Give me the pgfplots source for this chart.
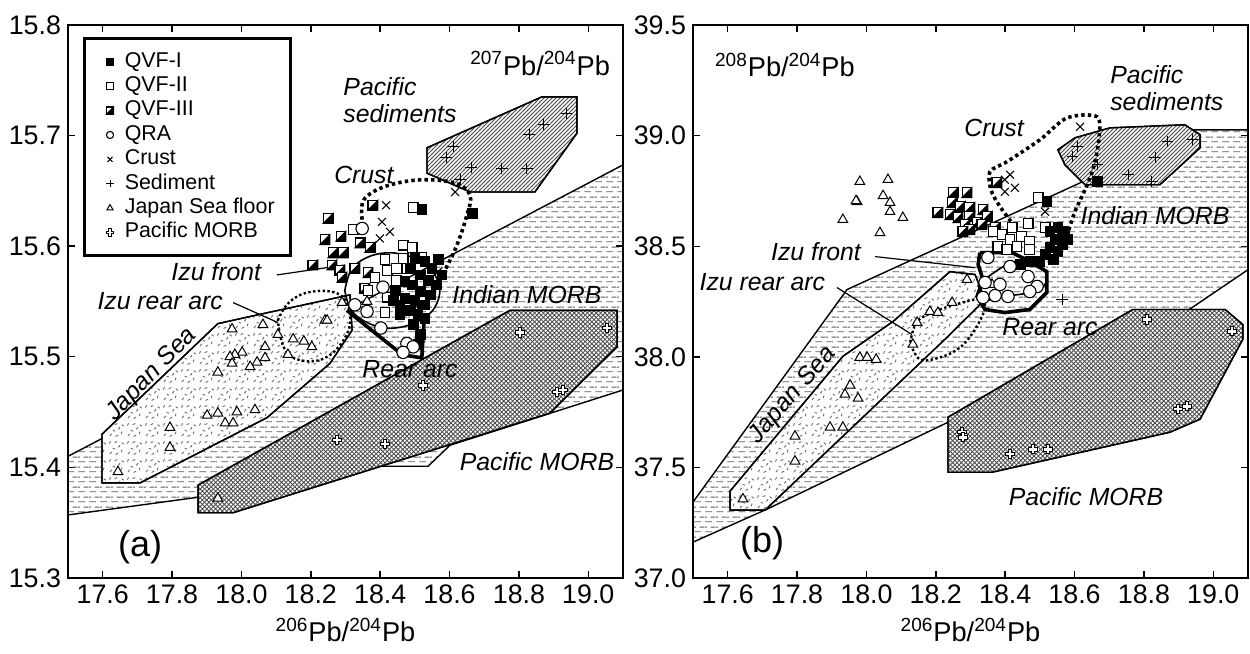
\documentclass[border=0pt]{standalone}
\usepackage{fontspec}
\setmainfont{Liberation Sans}
\usepackage{pgfplots}
\pgfplotsset{compat=1.18}
\usetikzlibrary{patterns}

\pgfdeclarepatternformonly{hdash}{\pgfqpoint{0pt}{0pt}}{\pgfqpoint{5.6pt}{5pt}}{\pgfqpoint{5.6pt}{5pt}}{%
 \pgfsetlinewidth{0.5pt}%
 \pgfpathmoveto{\pgfqpoint{0.2pt}{1.25pt}}\pgfpathlineto{\pgfqpoint{3.8pt}{1.25pt}}%
 \pgfpathmoveto{\pgfqpoint{3pt}{3.75pt}}\pgfpathlineto{\pgfqpoint{5.6pt}{3.75pt}}%
 \pgfpathmoveto{\pgfqpoint{0pt}{3.75pt}}\pgfpathlineto{\pgfqpoint{1pt}{3.75pt}}%
 \pgfusepath{stroke}}
\pgfdeclarepatternformonly{xdiag}{\pgfqpoint{-0.2pt}{-0.2pt}}{\pgfqpoint{2.4pt}{2.4pt}}{\pgfqpoint{2.2pt}{2.2pt}}{%
 \pgfsetlinewidth{0.4pt}%
 \pgfpathmoveto{\pgfqpoint{-0.2pt}{-0.2pt}}\pgfpathlineto{\pgfqpoint{2.4pt}{2.4pt}}%
 \pgfpathmoveto{\pgfqpoint{-0.2pt}{2.4pt}}\pgfpathlineto{\pgfqpoint{2.4pt}{-0.2pt}}%
 \pgfusepath{stroke}}
\pgfdeclarepatternformonly{nelines}{\pgfqpoint{-0.2pt}{-0.2pt}}{\pgfqpoint{2.2pt}{2.2pt}}{\pgfqpoint{2pt}{2pt}}{%
 \pgfsetlinewidth{0.45pt}%
 \pgfpathmoveto{\pgfqpoint{-0.2pt}{-0.2pt}}\pgfpathlineto{\pgfqpoint{2.2pt}{2.2pt}}\pgfusepath{stroke}}
\pgfdeclarepatternformonly{rdash}{\pgfqpoint{0pt}{0pt}}{\pgfqpoint{9pt}{9pt}}{\pgfqpoint{9pt}{9pt}}{%
 \pgfsetlinewidth{0.45pt}%
 \pgfpathmoveto{\pgfqpoint{1pt}{1pt}}\pgfpathlineto{\pgfqpoint{2pt}{2.2pt}}%
 \pgfpathmoveto{\pgfqpoint{4pt}{0.8pt}}\pgfpathlineto{\pgfqpoint{5.3pt}{1.5pt}}%
 \pgfpathmoveto{\pgfqpoint{7pt}{2pt}}\pgfpathlineto{\pgfqpoint{7.4pt}{3.4pt}}%
 \pgfpathmoveto{\pgfqpoint{2.5pt}{4pt}}\pgfpathlineto{\pgfqpoint{3.8pt}{3.6pt}}%
 \pgfpathmoveto{\pgfqpoint{5.5pt}{4.5pt}}\pgfpathlineto{\pgfqpoint{6.3pt}{5.7pt}}%
 \pgfpathmoveto{\pgfqpoint{0.8pt}{6.5pt}}\pgfpathlineto{\pgfqpoint{1.3pt}{7.8pt}}%
 \pgfpathmoveto{\pgfqpoint{3.5pt}{7pt}}\pgfpathlineto{\pgfqpoint{4.9pt}{7.6pt}}%
 \pgfpathmoveto{\pgfqpoint{7.2pt}{7pt}}\pgfpathlineto{\pgfqpoint{8.3pt}{6.2pt}}%
 \pgfusepath{stroke}}

\pgfdeclareplotmark{halfsq}{%
 \begin{pgfscope}\pgfsetfillcolor{white}%
 \pgfpathrectangle{\pgfqpoint{-\pgfplotmarksize}{-\pgfplotmarksize}}{\pgfqpoint{2\pgfplotmarksize}{2\pgfplotmarksize}}%
 \pgfusepathqfillstroke\end{pgfscope}%
 \pgfpathmoveto{\pgfqpoint{\pgfplotmarksize}{\pgfplotmarksize}}%
 \pgfpathlineto{\pgfqpoint{\pgfplotmarksize}{-\pgfplotmarksize}}%
 \pgfpathlineto{\pgfqpoint{-\pgfplotmarksize}{-\pgfplotmarksize}}%
 \pgfpathclose\pgfusepathqfillstroke}
\pgfdeclareplotmark{hcross}{%
 \pgfpathmoveto{\pgfqpoint{0.38\pgfplotmarksize}{\pgfplotmarksize}}%
 \pgfpathlineto{\pgfqpoint{0.38\pgfplotmarksize}{0.38\pgfplotmarksize}}%
 \pgfpathlineto{\pgfqpoint{\pgfplotmarksize}{0.38\pgfplotmarksize}}%
 \pgfpathlineto{\pgfqpoint{\pgfplotmarksize}{-0.38\pgfplotmarksize}}%
 \pgfpathlineto{\pgfqpoint{0.38\pgfplotmarksize}{-0.38\pgfplotmarksize}}%
 \pgfpathlineto{\pgfqpoint{0.38\pgfplotmarksize}{-\pgfplotmarksize}}%
 \pgfpathlineto{\pgfqpoint{-0.38\pgfplotmarksize}{-\pgfplotmarksize}}%
 \pgfpathlineto{\pgfqpoint{-0.38\pgfplotmarksize}{-0.38\pgfplotmarksize}}%
 \pgfpathlineto{\pgfqpoint{-\pgfplotmarksize}{-0.38\pgfplotmarksize}}%
 \pgfpathlineto{\pgfqpoint{-\pgfplotmarksize}{0.38\pgfplotmarksize}}%
 \pgfpathlineto{\pgfqpoint{-0.38\pgfplotmarksize}{0.38\pgfplotmarksize}}%
 \pgfpathlineto{\pgfqpoint{-0.38\pgfplotmarksize}{\pgfplotmarksize}}%
 \pgfpathclose\pgfusepathqfillstroke}

\tikzset{flab/.style={font=\itshape\fontsize{12.4}{13.5}\selectfont}}
\pgfplotsset{
  geoax/.style={
    scale only axis, width=277.5pt, height=276.5pt,
    xmin=17.5, xmax=19.1,
    xtick={17.6,17.8,18.0,18.2,18.4,18.6,18.8,19.0},
    /pgf/number format/assume math mode=true,
    xticklabel style={/pgf/number format/fixed,/pgf/number format/fixed zerofill,/pgf/number format/precision=1},
    yticklabel style={/pgf/number format/fixed,/pgf/number format/fixed zerofill,/pgf/number format/precision=1},
    tick label style={font=\fontsize{13.4}{15}\selectfont},
    major tick length=3.5pt,
    tick style={line width=0.7pt,black},
    axis line style={line width=0.7pt},
    xlabel={\textsuperscript{206}Pb/\textsuperscript{204}Pb},
    xlabel style={font=\fontsize{13.6}{15}\selectfont},
  },
  fieldline/.style={draw=black, line width=0.7pt},
  qvfI/.style={only marks, mark=square*, mark size=2.45pt, mark options={fill=black,draw=black,line width=0.4pt}},
  qvfII/.style={only marks, mark=square*, mark size=2.45pt, mark options={fill=white,draw=black,line width=0.55pt}},
  qvfIII/.style={only marks, mark=halfsq, mark size=2.45pt, mark options={fill=black,draw=black,line width=0.55pt}},
  qra/.style={only marks, mark=*, mark size=3.1pt, mark options={fill=white,draw=black,line width=0.55pt}},
  crust/.style={only marks, mark=x, mark size=2.8pt, mark options={draw=black,line width=0.55pt}},
  sedi/.style={only marks, mark=+, mark size=2.8pt, mark options={draw=black,line width=0.45pt}},
  jsf/.style={only marks, mark=triangle*, mark size=2.8pt, mark options={fill=white,draw=black,line width=0.5pt}},
  pmorb/.style={only marks, mark=hcross, mark size=2.3pt, mark options={fill=white,draw=black,line width=0.5pt}},
}

\begin{document}
\begin{tikzpicture}

% ================= (a) =================
\begin{axis}[geoax, at={(0pt,0pt)}, anchor=south west,
  ymin=15.3, ymax=15.8, ytick={15.3,15.4,15.5,15.6,15.7,15.8},
  legend style={at={(0.027,0.978)}, anchor=north west, draw=black, line width=1.4pt,
    font=\fontsize{10.7}{12}\selectfont, cells={anchor=west},
    nodes={inner sep=1pt, text height=7.8pt, text depth=2.4pt},
    inner xsep=7pt, inner ysep=5.5pt},
  legend image code/.code={\path (0cm,-0.1cm) (0.38cm,0.1cm); \draw[#1, mark size=1.8pt] plot coordinates {(0.18cm,0cm)};},
]
\addlegendimage{qvfI}\addlegendentry{QVF-I}
\addlegendimage{qvfII}\addlegendentry{QVF-II}
\addlegendimage{qvfIII}\addlegendentry{QVF-III}
\addlegendimage{qra}\addlegendentry{QRA}
\addlegendimage{crust}\addlegendentry{Crust}
\addlegendimage{sedi}\addlegendentry{Sediment}
\addlegendimage{jsf}\addlegendentry{Japan Sea floor}
\addlegendimage{pmorb}\addlegendentry{Pacific MORB}

% Indian MORB
\addplot[fieldline, pattern=hdash, pattern color=black!65, forget plot] coordinates {
(17.5,15.410) (19.2,15.690) (19.2,15.480) (18.601,15.420) (18.538,15.401) (18.342,15.401) (17.875,15.373) (17.5,15.357)} -- cycle;
% Pacific MORB
\addplot[fieldline, fill=white, postaction={pattern=xdiag, pattern color=black!70}, forget plot] coordinates {
(17.875,15.384) (17.875,15.359) (17.976,15.359) (18.889,15.449) (19.083,15.509) (19.083,15.542) (18.774,15.542)} -- cycle;
% Japan Sea
\addplot[fieldline, fill=white, postaction={pattern=rdash, pattern color=black!60}, forget plot] coordinates {
(17.598,15.430) (17.598,15.386) (17.708,15.386) (18.074,15.445) (18.255,15.494) (18.319,15.524) (18.313,15.556) (18.062,15.539) (17.932,15.530)} -- cycle;
% Pacific sediments
\addplot[fieldline, fill=white, postaction={pattern=nelines, pattern color=black!70}, forget plot] coordinates {
(18.535,15.689) (18.535,15.666) (18.659,15.649) (18.846,15.649) (18.967,15.702) (18.967,15.735) (18.866,15.735)} -- cycle;
% Izu rear arc (dotted)
\addplot[smooth, tension=0.7, line width=1.2pt, dash pattern=on 1.2pt off 1.2pt, forget plot] coordinates {
(18.105,15.533) (18.140,15.550) (18.206,15.559) (18.284,15.556) (18.313,15.538) (18.298,15.517) (18.241,15.499) (18.169,15.497) (18.123,15.508) (18.105,15.533)};
% Crust (dotted thick)
\addplot[smooth, tension=0.6, line width=1.8pt, dash pattern=on 1.7pt off 1.6pt, forget plot] coordinates {
(18.348,15.624) (18.353,15.642) (18.414,15.654) (18.515,15.660) (18.616,15.657) (18.659,15.646) (18.650,15.628) (18.616,15.597) (18.567,15.567)};
% pointers
\addplot[line width=0.6pt, forget plot] coordinates {(18.102,15.574) (18.298,15.583)};
\addplot[line width=0.6pt, forget plot] coordinates {(17.976,15.549) (18.105,15.531)};

% data
\addplot[jsf, forget plot] coordinates {
(17.973,15.525) (18.062,15.529) (18.241,15.533) (18.105,15.520) (18.149,15.516) (18.180,15.514) (18.203,15.509) (18.134,15.502) (18.068,15.509) (18.068,15.499) (18.045,15.495) (18.025,15.491) (18.002,15.504) (17.981,15.502) (17.967,15.500) (17.973,15.494) (17.932,15.486) (17.901,15.447) (17.932,15.449) (17.987,15.450) (18.039,15.452) (17.953,15.440) (17.976,15.440) (17.794,15.436) (17.794,15.418) (17.644,15.396) (17.932,15.372) (18.290,15.549) (18.247,15.533) (18.362,15.550)};
\addplot[pmorb, forget plot] coordinates {
(18.803,15.522) (19.054,15.526) (18.523,15.474) (18.910,15.468) (18.927,15.470) (18.275,15.425) (18.414,15.421)};
\addplot[sedi, forget plot] coordinates {
(18.610,15.690) (18.590,15.680) (18.662,15.671) (18.751,15.670) (18.823,15.670) (18.829,15.701) (18.872,15.710) (18.938,15.720) (18.630,15.660)};
\addplot[crust, forget plot] coordinates {
(18.417,15.637) (18.405,15.622) (18.428,15.613) (18.399,15.607) (18.616,15.649) (18.567,15.577)};
\addplot[qvfIII, forget plot] coordinates {
(18.250,15.625) (18.241,15.606) (18.287,15.609) (18.342,15.603) (18.371,15.599) (18.264,15.594) (18.293,15.594) (18.206,15.583) (18.261,15.583) (18.284,15.578) (18.327,15.580) (18.365,15.576) (18.290,15.572) (18.356,15.562) (18.379,15.637)};
\addplot[qvfII, forget plot] coordinates {
(18.495,15.635) (18.414,15.588) (18.466,15.589) (18.520,15.590) (18.420,15.578) (18.448,15.580) (18.477,15.580) (18.385,15.572) (18.448,15.569) (18.365,15.560) (18.420,15.554) (18.466,15.601) (18.492,15.599) (18.414,15.540) (18.322,15.615)};
\addplot[qvfI, forget plot] coordinates {
(18.520,15.633) (18.665,15.630) (18.500,15.589) (18.529,15.586) (18.549,15.580) (18.515,15.574) (18.538,15.569) (18.561,15.565) (18.492,15.565) (18.515,15.559) (18.544,15.556) (18.471,15.553) (18.500,15.551) (18.529,15.547) (18.486,15.542) (18.509,15.538) (18.457,15.547) (18.443,15.560) (18.471,15.568) (18.486,15.580) (18.567,15.588) (18.578,15.574) (18.457,15.538) (18.495,15.529) (18.515,15.520) (18.509,15.511) (18.529,15.535) (18.437,15.551)};
\addplot[qra, forget plot] coordinates {
(18.348,15.616) (18.408,15.563) (18.362,15.541) (18.402,15.526) (18.477,15.512) (18.495,15.509) (18.466,15.504) (18.327,15.547)};

% Izu front & Rear arc outlines
\addplot[smooth, tension=0.6, line width=0.8pt, forget plot] coordinates {
(18.298,15.560) (18.319,15.580) (18.371,15.591) (18.434,15.594) (18.500,15.589) (18.549,15.578) (18.572,15.560) (18.549,15.541) (18.486,15.529) (18.414,15.526) (18.350,15.533) (18.313,15.544) (18.298,15.560)};
\addplot[line width=1.8pt, forget plot] coordinates {
(18.304,15.542) (18.463,15.502) (18.520,15.499) (18.526,15.531) (18.500,15.555)};

% labels
\node[flab, anchor=east] at (axis cs:18.077,15.577) {Izu front};
\node[flab, anchor=east] at (axis cs:17.967,15.550) {Izu rear arc};
\node[flab, rotate=46, inner sep=0pt] at (axis cs:17.742,15.484) {Japan Sea};
\node[flab] at (axis cs:18.823,15.556) {Indian MORB};
\node[flab] at (axis cs:18.486,15.489) {Rear arc};
\node[flab] at (axis cs:18.852,15.405) {Pacific MORB};
\node[flab] at (axis cs:18.353,15.664) {Crust};
\node[flab, anchor=west, align=left, inner xsep=0pt] at (axis cs:18.293,15.732) {Pacific\\sediments};
\node[font=\fontsize{13.6}{15}\selectfont] at (axis cs:18.861,15.765) {\textsuperscript{207}Pb/\textsuperscript{204}Pb};
\node[font=\fontsize{18}{20}\selectfont] at (axis cs:17.708,15.328) {(a)};
\end{axis}

% ================= (b) =================
\begin{axis}[geoax, at={(312.5pt,0pt)}, anchor=south west,
  ymin=37.0, ymax=39.5, ytick={37.0,37.5,38.0,38.5,39.0,39.5}]
% Indian MORB
\addplot[fieldline, pattern=hdash, pattern color=black!65] coordinates {
(17.5,37.343) (17.944,38.304) (18.624,38.792) (18.861,39.026) (19.2,39.026) (19.2,38.500) (18.846,38.124) (18.673,37.898) (18.235,37.704) (17.713,37.311) (17.5,37.162)} -- cycle;
% Pacific MORB
\addplot[fieldline, fill=white, postaction={pattern=xdiag, pattern color=black!70}] coordinates {
(18.235,37.727) (18.235,37.478) (18.362,37.478) (18.875,37.659) (18.962,37.718) (19.085,38.079) (19.085,38.146) (19.034,38.214) (18.768,38.214)} -- cycle;
% Japan Sea
\addplot[fieldline, fill=white, postaction={pattern=rdash, pattern color=black!60}] coordinates {
(17.607,37.393) (17.607,37.307) (17.708,37.307) (18.235,38.092) (18.342,38.259) (18.313,38.372) (18.241,38.385) (18.077,38.160) (17.932,38.002)} -- cycle;
% Pacific sediments
\addplot[fieldline, fill=white, postaction={pattern=nelines, pattern color=black!70}] coordinates {
(18.552,38.936) (18.572,38.868) (18.630,38.778) (18.846,38.778) (18.962,38.945) (18.962,39.004) (18.918,39.049) (18.702,39.035) (18.601,38.990)} -- cycle;
% Izu rear arc dotted
\addplot[smooth, tension=0.6, line width=1.2pt, dash pattern=on 1.2pt off 1.2pt] coordinates {
(18.126,38.065) (18.146,38.160) (18.198,38.205) (18.255,38.236) (18.322,38.259) (18.342,38.223) (18.313,38.124) (18.270,38.042) (18.212,37.997) (18.154,37.988) (18.126,38.065)};
% Crust dotted
\addplot[smooth, tension=0.5, line width=1.8pt, dash pattern=on 1.7pt off 1.6pt] coordinates {
(18.428,38.588) (18.385,38.679) (18.359,38.755) (18.356,38.837) (18.405,38.882) (18.500,38.981) (18.578,39.080) (18.665,39.085) (18.670,38.981) (18.653,38.846) (18.630,38.755) (18.601,38.656) (18.581,38.561)};
% pointers
\addplot[line width=0.6pt] coordinates {(18.025,38.453) (18.313,38.403)};
\addplot[line width=0.6pt] coordinates {(17.915,38.313) (18.131,38.101)};

% data
\addplot[jsf] coordinates {
(17.981,38.792) (18.062,38.801) (17.973,38.701) (17.970,38.705) (18.048,38.728) (18.068,38.697) (18.068,38.656) (18.105,38.629) (17.932,38.620) (18.039,38.561) (17.981,37.997) (18.002,37.997) (18.028,37.988) (17.953,37.871) (17.938,37.830) (17.976,37.812) (17.895,37.681) (17.932,37.681) (17.794,37.641) (17.794,37.528) (17.644,37.357) (18.183,38.205) (18.206,38.200) (18.247,38.245) (18.146,38.155) (18.134,38.056) (18.290,38.349) (18.362,38.327)};
\addplot[pmorb] coordinates {
(18.809,38.169) (19.054,38.115) (18.898,37.763) (18.924,37.776) (18.275,37.659) (18.278,37.636) (18.414,37.560) (18.480,37.582) (18.523,37.582)};
\addplot[sedi] coordinates {
(18.607,38.949) (18.593,38.904) (18.665,38.868) (18.754,38.823) (18.823,38.792) (18.832,38.900) (18.869,38.972) (18.941,38.981) (18.564,38.259)};
\addplot[crust] coordinates {
(18.616,39.040) (18.414,38.823) (18.399,38.801) (18.428,38.764) (18.399,38.746) (18.515,38.656)};
\addplot[qvfIII] coordinates {
(18.250,38.742) (18.290,38.742) (18.247,38.697) (18.270,38.679) (18.298,38.674) (18.206,38.652) (18.241,38.643) (18.264,38.629) (18.298,38.634) (18.336,38.665) (18.348,38.634) (18.284,38.597) (18.319,38.607) (18.333,38.597) (18.298,38.575) (18.371,38.584) (18.278,38.566) (18.376,38.787)};
\addplot[qvfII] coordinates {
(18.495,38.719) (18.420,38.584) (18.466,38.602) (18.515,38.584) (18.391,38.552) (18.414,38.530) (18.448,38.543) (18.471,38.521) (18.379,38.498) (18.405,38.485) (18.434,38.498) (18.471,38.485) (18.365,38.566)};
\addplot[qvfI] coordinates {
(18.520,38.701) (18.665,38.792) (18.529,38.566) (18.552,38.584) (18.572,38.552) (18.544,38.530) (18.564,38.507) (18.529,38.494) (18.552,38.476) (18.515,38.462) (18.538,38.440) (18.500,38.431) (18.564,38.566) (18.581,38.530) (18.471,38.431) (18.443,38.417)};
\addplot[qra] coordinates {
(18.350,38.449) (18.414,38.408) (18.466,38.363) (18.492,38.318) (18.336,38.268) (18.371,38.277) (18.408,38.273) (18.471,38.295) (18.342,38.336) (18.385,38.327)};

% Izu front thin & Rear arc thick
\addplot[smooth, tension=0.6, line width=0.8pt] coordinates {
(18.322,38.327) (18.428,38.431) (18.515,38.385) (18.500,38.304) (18.399,38.273) (18.342,38.259) (18.322,38.327)};
\addplot[line width=1.8pt] coordinates {
(18.327,38.471) (18.420,38.471) (18.471,38.431) (18.520,38.385) (18.520,38.291) (18.471,38.214) (18.399,38.200) (18.342,38.214) (18.319,38.273) (18.336,38.349) (18.322,38.417) (18.327,38.471)};

% labels
\node[font=\fontsize{13.6}{15}\selectfont] at (axis cs:17.765,39.319) {\textsuperscript{208}Pb/\textsuperscript{204}Pb};
\node[flab] at (axis cs:18.368,39.035) {Crust};
\node[flab, anchor=west, align=left, inner xsep=0pt] at (axis cs:18.702,39.216) {Pacific\\sediments};
\node[flab] at (axis cs:18.832,38.638) {Indian MORB};
\node[flab, anchor=east] at (axis cs:18.004,38.476) {Izu front};
\node[flab, anchor=east] at (axis cs:17.901,38.336) {Izu rear arc};
\node[flab] at (axis cs:18.529,38.133) {Rear arc};
\node[flab] at (axis cs:18.633,37.370) {Pacific MORB};
\node[flab, rotate=49, inner sep=0pt] at (axis cs:17.788,37.826) {Japan Sea};
\node[font=\fontsize{18}{20}\selectfont] at (axis cs:17.699,37.158) {(b)};
\end{axis}
\pgfresetboundingbox
\path (-34pt,-38pt) rectangle (591pt,289pt);
\end{tikzpicture}
\end{document}
